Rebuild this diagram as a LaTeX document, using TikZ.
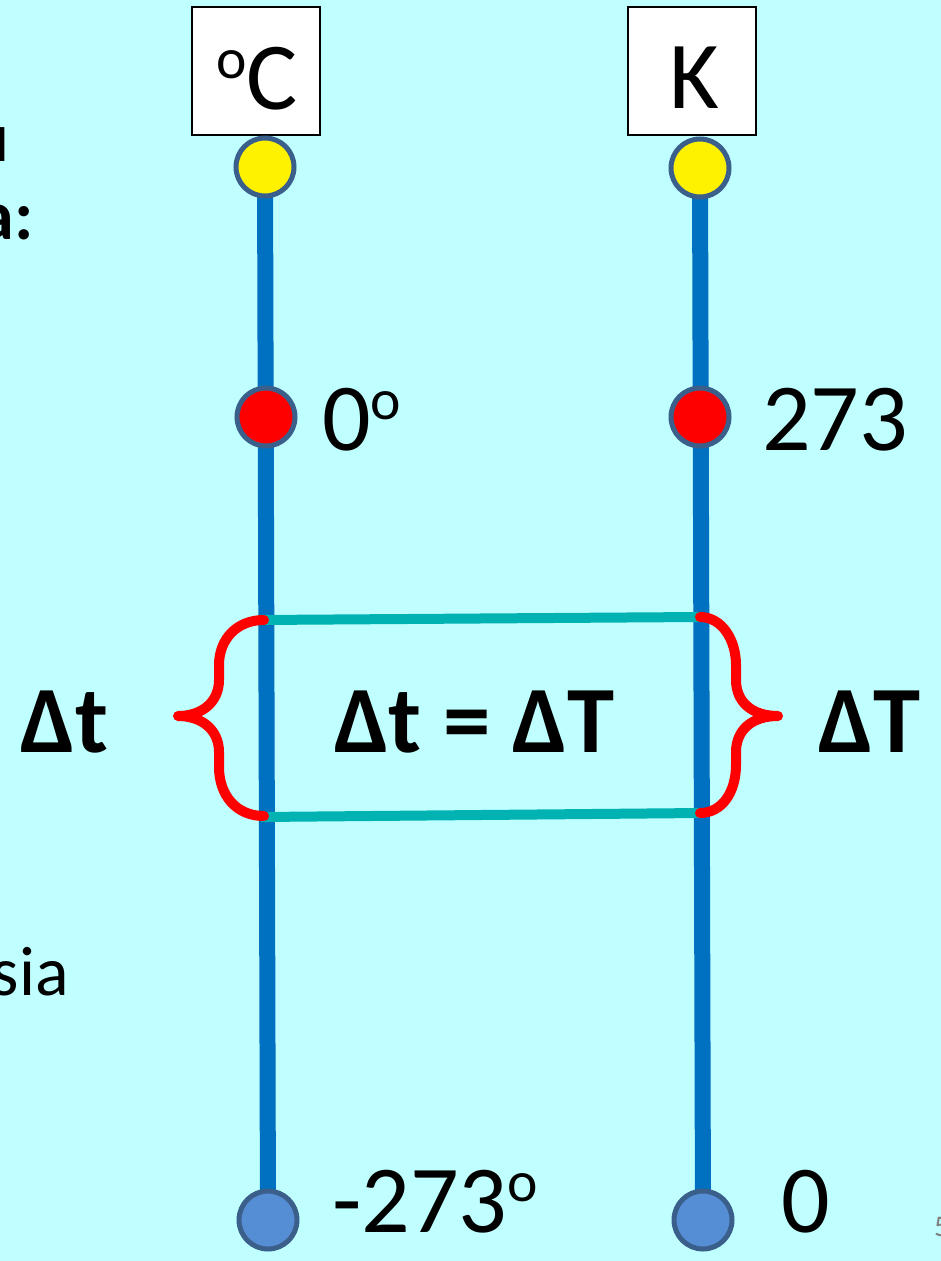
\documentclass[tikz,border=0pt]{standalone}
\usepackage{fontspec}
\setmainfont{Carlito}
\definecolor{bgc}{RGB}{192,255,255}
\definecolor{linec}{RGB}{0,112,192}
\definecolor{rimc}{RGB}{58,95,139}
\definecolor{botc}{RGB}{85,142,213}
\definecolor{tealc}{RGB}{0,178,178}
\definecolor{bracec}{RGB}{255,0,0}
\newcommand\supo{\raisebox{0.32em}{\scalebox{0.6}{o}}}
\tikzset{
  dot/.style={circle,draw=rimc,line width=5pt,minimum size=58pt,inner sep=0pt},
  scaleline/.style={draw=linec,line width=16pt},
  tie/.style={draw=tealc,line width=10pt},
  bracepath/.style={draw=bracec,line width=10pt,line cap=round,line join=round},
  unitbox/.style={draw=black,line width=2pt,fill=white,minimum width=128pt,minimum height=128pt,inner sep=0pt},
  unittext/.style={font=\fontsize{96}{96}\selectfont,inner sep=0pt,anchor=base},
  big/.style={font=\fontsize{96}{96}\selectfont,inner sep=0pt},
  bigb/.style={font=\fontsize{95}{95}\selectfont\bfseries,inner sep=0pt},
  edge/.style={inner sep=0pt}
}
\begin{document}
\begin{tikzpicture}[x=1pt,y=-1pt]
\fill[bgc] (0,0) rectangle (941,1261);
\useasboundingbox (0,0) rectangle (941,1261);
% boxes
\node[unitbox] (bc) at (255.5,70.5) {};
\node[unitbox] (bk) at (692,70.5) {};
\node[unittext] (tc) at (257,109) {\supo C};
\node[unittext] (tk) at (694,108) {K};
% circle positions
\coordinate (cy) at (265,167);
\coordinate (cr) at (266,417);
\coordinate (cb) at (268,1220);
\coordinate (ky) at (700,168);
\coordinate (kr) at (700,417);
\coordinate (kb) at (703,1220);
% vertical lines
\draw[scaleline] (cy) -- (cb);
\draw[scaleline] (ky) -- (kb);
% tie lines
\coordinate (t1) at (259,620);
\coordinate (t2) at (699,617);
\coordinate (t3) at (261,817);
\coordinate (t4) at (701,813);
\draw[tie] (t1) -- (t2);
\draw[tie] (t3) -- (t4);
% braces
\coordinate (lb1) at (264,620);
\coordinate (lb2) at (264,816);
\coordinate (lbt) at (178,716);
\draw[bracepath] (lb1) .. controls (236,620) and (219,640) .. (219,665)
  -- (219,680) .. controls (219,702) and (202,716) .. (lbt)
  .. controls (202,716) and (219,730) .. (219,752)
  -- (219,767) .. controls (219,795) and (236,816) .. (lb2);
\coordinate (rb1) at (700,617);
\coordinate (rb2) at (700,813);
\coordinate (rbt) at (778,716);
\draw[bracepath] (rb1) .. controls (722,617) and (736,640) .. (736,665)
  -- (736,680) .. controls (736,702) and (752,716) .. (rbt)
  .. controls (752,716) and (736,730) .. (736,752)
  -- (736,765) .. controls (736,792) and (722,813) .. (rb2);
% dots
\node[dot,fill=yellow] (ncy) at (cy) {};
\node[dot,fill=yellow] (nky) at (ky) {};
\node[dot,fill=red] (ncr) at (cr) {};
\node[dot,fill=red] (nkr) at (kr) {};
\node[dot,fill=botc] (ncb) at (cb) {};
\node[dot,fill=botc] (nkb) at (kb) {};
% labels
\node[big,anchor=base west] (l0) at (322,450) {0\supo};
\node[big,anchor=base west] (l273) at (762,450) {273};
\node[big,anchor=base west] (lm273) at (332,1232) {-273\supo};
\node[big,anchor=base west] (lk0) at (781,1232) {0};
\node[bigb,anchor=base west] (ldt) at (20,752) {Δt};
\node[bigb,anchor=base west] (ldT) at (818,752) {ΔT};
\node[bigb,anchor=base] (leq) at (474,752) {Δt = ΔT};
% cut-off text at left edge
\node[font=\fontsize{70}{70}\selectfont\bfseries,anchor=east,edge] (tu) at (9,145) {u};
\node[font=\fontsize{70}{70}\selectfont\bfseries,anchor=east,edge] (ta) at (34,222) {a:};
\node[font=\fontsize{70}{70}\selectfont,anchor=east,edge] (ts) at (69,972) {sia};
\node[font=\fontsize{30}{30}\selectfont,text=gray,anchor=west,edge] (pg) at (934,1227) {5};
\end{tikzpicture}
\end{document}
